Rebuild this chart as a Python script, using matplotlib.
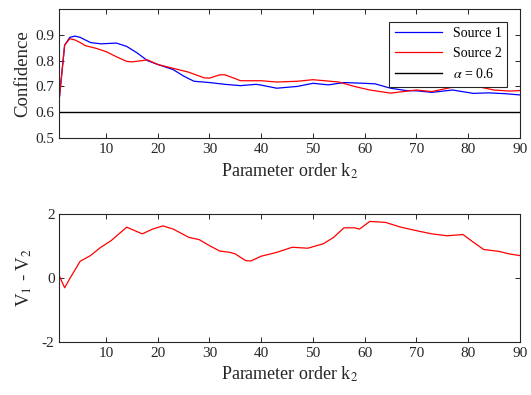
import matplotlib
matplotlib.use("Agg")
import matplotlib.pyplot as plt

plt.rcParams['font.family'] = ['Liberation Serif', 'DejaVu Serif']
plt.rcParams['mathtext.fontset'] = 'stix'
plt.rcParams['axes.unicode_minus'] = False

# confidence curves
k_conf = [1, 2, 3, 4, 5, 7, 9, 12, 14, 16, 18, 20, 23, 25, 27, 30, 33, 36, 39, 40,
          43, 47, 50, 53, 56, 60, 62, 65, 68, 70, 73, 77, 81, 84, 87, 90]
source1 = [0.66, 0.86, 0.89, 0.895, 0.89, 0.87, 0.865, 0.868, 0.855, 0.83, 0.80, 0.785,
           0.765, 0.74, 0.72, 0.715, 0.708, 0.703, 0.708, 0.705,
           0.693, 0.70, 0.712, 0.706, 0.715, 0.712, 0.71, 0.693, 0.684, 0.683,
           0.677, 0.686, 0.673, 0.675, 0.672, 0.667]

k_conf2 = [1, 2, 3, 4, 5, 6, 8, 10, 12, 14, 15, 17, 18, 20, 23, 26, 29, 30, 32, 33,
           35, 36, 40, 43, 47, 50, 55, 58, 61, 65, 70, 73, 77, 81, 85, 88, 90]
source2 = [0.66, 0.86, 0.885, 0.88, 0.87, 0.858, 0.848, 0.835, 0.815, 0.797, 0.795,
           0.80, 0.803, 0.785, 0.77, 0.755, 0.733, 0.732, 0.745, 0.745,
           0.73, 0.722, 0.722, 0.717, 0.72, 0.726, 0.717, 0.70, 0.686, 0.674,
           0.686, 0.68, 0.697, 0.703, 0.686, 0.682, 0.684]

alpha = 0.6

# difference V1 - V2
k_diff = [1, 2, 3, 5, 7, 9, 11, 14, 17, 19, 21, 23, 26, 28, 30, 32, 34, 35, 37, 38,
          40, 43, 46, 49, 52, 54, 56, 58, 59, 61, 64, 67, 70, 73, 76, 79, 81, 83,
          86, 88, 90]
v_diff = [0.05, -0.31, -0.02, 0.52, 0.70, 0.96, 1.17, 1.59, 1.38, 1.53, 1.63, 1.53,
          1.27, 1.20, 1.01, 0.84, 0.80, 0.75, 0.54, 0.53, 0.68, 0.80, 0.96, 0.93,
          1.07, 1.27, 1.57, 1.57, 1.53, 1.77, 1.74, 1.59, 1.48, 1.38, 1.32, 1.36,
          1.12, 0.89, 0.83, 0.75, 0.70]

fig = plt.figure(figsize=(5.31, 3.95), dpi=100)
ax1 = fig.add_axes([0.112, 0.6506, 0.867, 0.3266])
ax2 = fig.add_axes([0.112, 0.135, 0.867, 0.323])

ax1.plot(k_conf, source1, color='blue', lw=0.9, label='Source 1')
ax1.plot(k_conf2, source2, color='red', lw=0.9, label='Source 2')
ax1.axhline(alpha, color='black', lw=1.0, label=r'$\alpha$ = 0.6')
ax1.set_xlim(1, 90)
ax1.set_ylim(0.5, 1.0)
ax1.set_yticks([0.5, 0.6, 0.7, 0.8, 0.9])
ax1.set_ylabel('Confidence', fontsize=13.5, color='#262626', labelpad=3)
ax1.set_xlabel('Parameter order k$_2$', fontsize=13, color='#262626')
leg = ax1.legend(loc='upper right', fontsize=10, fancybox=False, framealpha=1,
                 edgecolor='#262626', borderaxespad=0.9, handlelength=3.4)
leg.get_frame().set_linewidth(0.8)

ax2.plot(k_diff, v_diff, color='red', lw=0.9)
ax2.set_xlim(1, 90)
ax2.set_ylim(-2, 2)
ax2.set_yticks([-2, 0, 2])
ax2.set_ylabel('V$_1$ - V$_2$', fontsize=13.5, color='#262626', labelpad=6)
ax2.set_xlabel('Parameter order k$_2$', fontsize=13, color='#262626')

for ax in (ax1, ax2):
    ax.set_xticks(range(10, 91, 10))
    ax.tick_params(direction='in', top=True, right=True, labelsize=11,
                   colors='#262626', length=3.5, width=0.7)
    for sp in ax.spines.values():
        sp.set_color('#262626')
        sp.set_linewidth(0.8)

fig.savefig('out.png', dpi=100)
